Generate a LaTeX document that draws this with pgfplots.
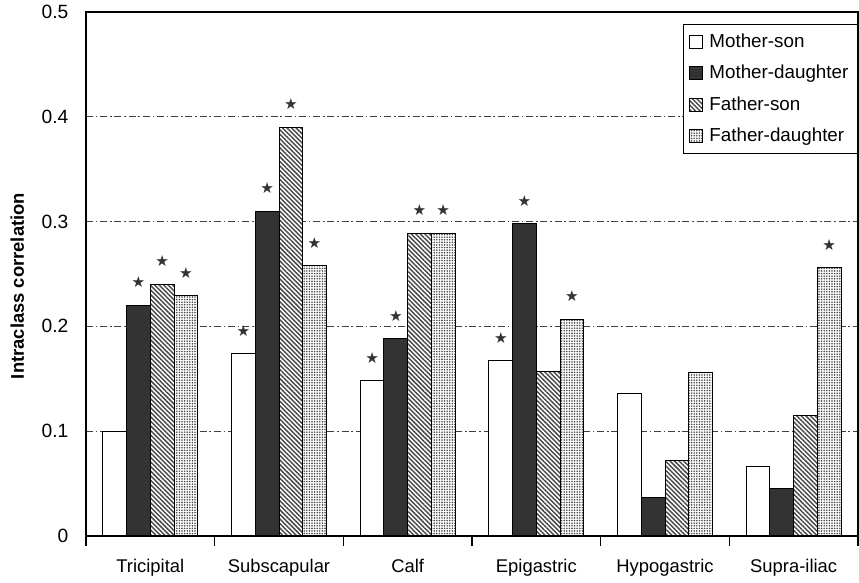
\documentclass[border=0pt]{standalone}
\usepackage{pgfplots}
\pgfplotsset{compat=1.18}
\usepackage{fontspec}
\setmainfont{Liberation Sans}
\newfontfamily\symfont{DejaVu Sans}
\usetikzlibrary{patterns.meta}

% significance star above a bar when the point meta is "s"
\newcommand\sigmark{\if s\pgfplotspointmeta{\symfont\fontsize{7.6}{7.6}\selectfont ★}\fi}

\begin{document}
\begin{tikzpicture}[font=\fontsize{9.2}{11}\selectfont]
\begin{axis}[
  scale only axis, width=386pt, height=262pt,
  ybar=0pt, bar width=0.184,
  xmin=-0.5, xmax=5.5, ymin=0, ymax=0.5,
  clip=false,
  axis line style={black, line width=0.6pt},
  xtick={0,1,2,3,4,5},
  xticklabels={Tricipital,Subscapular,Calf,Epigastric,Hypogastric,Supra-iliac},
  minor xtick={-0.5,0.5,1.5,2.5,3.5,4.5,5.5},
  major x tick style={draw=none},
  minor x tick style={black, line width=0.6pt},
  minor tick length=5pt,
  tick align=outside,
  xtick pos=bottom, ytick pos=left,
  ytick={0,0.1,0.2,0.3,0.4,0.5},
  ytick style={draw=none},
  yticklabel style={/pgf/number format/assume math mode=true, xshift=-1pt,
    font=\fontsize{9.6}{11}\selectfont},
  xticklabel style={anchor=base, yshift=-14pt},
  ymajorgrids,
  grid style={black!75, line width=0.5pt, dash pattern=on 3.5pt off 1.4pt on 0.8pt off 1.4pt},
  ylabel={\bfseries Intraclass correlation},
  every axis y label/.style={at={(axis description cs:-0.089,0.477)}, rotate=90, anchor=center},
  point meta=explicit symbolic,
  nodes near coords={\sigmark},
  every node near coord/.append style={anchor=center, yshift=11.5pt, inner sep=0pt, text=black!80},
  legend cell align=left,
  legend image code/.code={\draw[#1] (0pt,-3.2pt) rectangle (6.4pt,3.2pt);},
  legend style={at={(axis description cs:1,0.977)}, anchor=north east,
    draw=black, fill=white, line width=0.6pt, row sep=4.4pt, column sep=1.6pt,
    inner sep=3pt, font=\fontsize{9.4}{11}\selectfont,
    nodes={inner sep=1.5pt}},
]
\addplot[draw=black, fill=white, line width=0.5pt] coordinates {
  (0,0.100) [n] (1,0.174) [s] (2,0.148) [s] (3,0.167) [s] (4,0.136) [n] (5,0.066) [n]};
\addlegendentry{Mother-son}
\addplot[draw=black, fill=black!80, line width=0.5pt] coordinates {
  (0,0.220) [s] (1,0.310) [s] (2,0.188) [s] (3,0.298) [s] (4,0.037) [n] (5,0.045) [n]};
\addlegendentry{Mother-daughter}
\addplot[draw=black, fill=white, line width=0.5pt,
  postaction={pattern={Lines[angle=-45,distance=1.6pt,line width=0.72pt]}, pattern color=black!72}] coordinates {
  (0,0.240) [s] (1,0.390) [s] (2,0.289) [s] (3,0.157) [n] (4,0.072) [n] (5,0.115) [n]};
\addlegendentry{Father-son}
\addplot[draw=black, fill=white, line width=0.5pt,
  postaction={pattern={Dots[distance=1.3pt,radius=0.45pt]}, pattern color=black!70}] coordinates {
  (0,0.229) [s] (1,0.258) [s] (2,0.289) [s] (3,0.207) [s] (4,0.156) [n] (5,0.256) [s]};
\addlegendentry{Father-daughter}
\end{axis}
\pgfresetboundingbox
\path ([xshift=-43pt,yshift=-23.5pt]current axis.south west) rectangle ([xshift=0.5pt,yshift=6pt]current axis.north east);
\end{tikzpicture}
\end{document}
